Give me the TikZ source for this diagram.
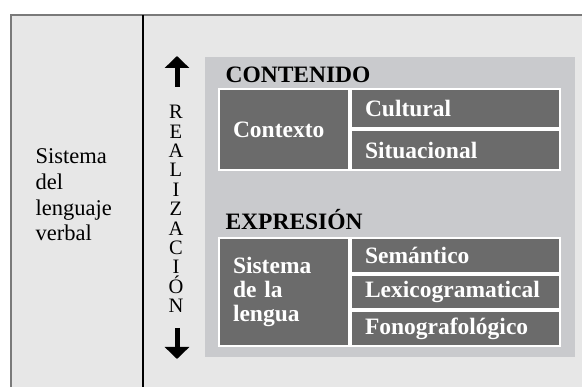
\documentclass[tikz,border=0pt]{standalone}
\usepackage{fontspec}
\setmainfont{Liberation Serif}
\usetikzlibrary{positioning,arrows.meta}
\definecolor{framebg}{HTML}{E7E7E7}
\definecolor{panelbg}{HTML}{C9CACD}
\definecolor{cellbg}{HTML}{6B6B6B}
\definecolor{framegray}{HTML}{7A7A7A}

\begin{document}
\begin{tikzpicture}[x=1pt, y=-1pt,
	cell/.style={fill=cellbg, draw=white, line width=2pt, text=white, align=left, inner xsep=14pt, inner ysep=0pt, anchor=north west, font=\fontsize{23.5}{24}\selectfont\bfseries},
	wide/.style={cell, text width=181pt, minimum height=#1},
	head/.style={anchor=base west, font=\fontsize{23.5}{25}\selectfont\bfseries},
	updown/.style={-{Triangle[width=24pt, length=12pt]}, line width=5pt}]
	\useasboundingbox (0,0) rectangle (582,387);
	\fill [framebg] (11,15) rectangle (582,387);
	\draw [framegray, line width=2pt] (11,387) -- (11,15) -- (582,15);
	\draw [line width=1.6pt] (143,15) -- (143,387);
	\node [align=left, anchor=west, font=\fontsize{22.5}{25.7}\selectfont] (sistema) at (32,195) {Sistema\\del\\lenguaje\\verbal};
	\node [fill=panelbg, minimum width=370pt, minimum height=300pt, anchor=north west] (panel) at (205,57) {};
	\node [head] (contenido) at (222,83) {CONTENIDO};
	\node [cell, text width=102pt, minimum height=81pt] (contexto) at (218,88) {Contexto};
	\node [wide=39.5pt, right=0pt of contexto.north east, anchor=north west] (cultural) {Cultural};
	\node [wide=39.5pt, below=0pt of cultural.south west, anchor=north west] (situacional) {Situacional};
	\node [head] (expresion) at (222,230) {EXPRESIÓN};
	\node [cell, text width=102pt, minimum height=108pt] (lengua) at (218,237) {Sistema\\de la\\lengua};
	\node [wide=34.67pt, right=0pt of lengua.north east, anchor=north west] (semantico) {Semántico};
	\node [wide=34.67pt, below=0pt of semantico.south west, anchor=north west] (lexico) {Lexicogramatical};
	\node [wide=34.67pt, below=0pt of lexico.south west, anchor=north west] (fono) {Fonografológico};
	\node [align=center, font=\fontsize{20.5}{19.4}\selectfont] (realizacion) at (176,209) {R\\E\\A\\L\\I\\Z\\A\\C\\I\\Ó\\N};
	\coordinate (uptail) at (177,87);
	\coordinate (uptip) at (177,56);
	\coordinate (downtail) at (177,328);
	\coordinate (downtip) at (177,359);
	\draw [updown] (uptail) -- (uptip);
	\draw [updown] (downtail) -- (downtip);
\end{tikzpicture}
\end{document}
